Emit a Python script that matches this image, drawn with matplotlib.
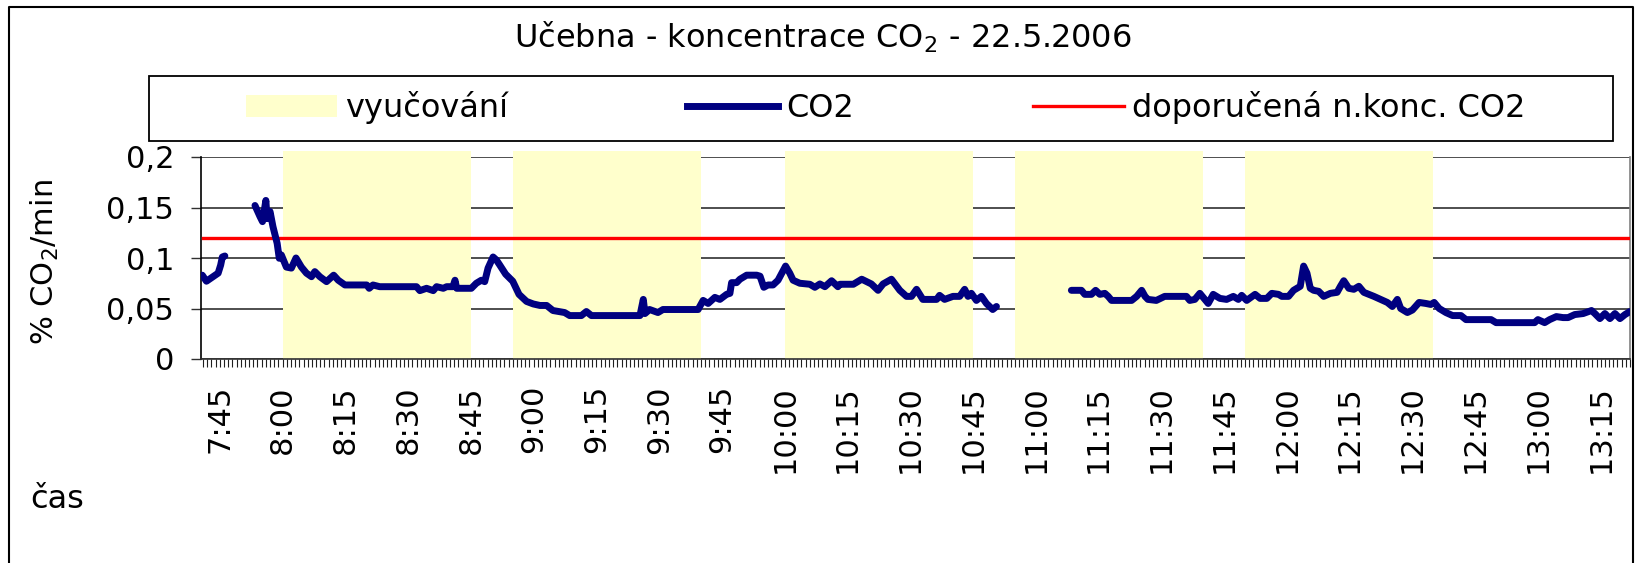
import math
import matplotlib
matplotlib.use("Agg")
import matplotlib.pyplot as plt
from matplotlib.lines import Line2D
from matplotlib.patches import Patch, Rectangle
from matplotlib.ticker import FixedLocator, MultipleLocator, FuncFormatter

# data
# time in minutes since midnight, nan = gap in measurement
co2_time = [460.8, 461.8, 463.4, 464.6, 465.2, 465.6, 466.2, math.nan,
            473.4, 474.6, 475.2, 476.0, 476.3, 477.0, 477.7, 478.7, 479.2, 479.7,
            480.9, 482.1, 483.2, 484.5, 485.7, 486.9, 487.7, 488.9, 490.5, 492.2,
            493.3, 494.9, 500.1, 500.7, 501.6, 503.2, 512.0, 512.8, 514.4, 516.0,
            516.8, 518.4, 519.2, 520.7, 521.2, 521.6, 525.1, 526.3, 527.5, 528.3,
            529.1, 530.3, 531.1, 531.9, 533.3, 535.0, 536.5, 538.3, 539.9, 541.5,
            543.1, 544.6, 547.4, 548.6, 551.4, 552.6, 553.8, 565.4, 566.2, 566.6,
            567.7, 569.7, 570.9, 579.3, 580.5, 581.7, 583.3, 584.5, 586.1, 586.9,
            587.3, 588.5, 589.3, 590.9, 593.3, 594.1, 595.0, 596.0, 597.2, 598.4,
            600.2, 601.2, 602.0, 603.6, 606.0, 607.2, 608.4, 609.6, 611.2, 612.7,
            613.2, 616.4, 618.4, 620.7, 622.3, 623.5, 625.5, 627.5, 629.1, 630.3,
            631.5, 633.0, 636.3, 637.0, 638.2, 640.2, 641.8, 643.0, 643.8, 644.6,
            645.8, 647.0, 648.2, 649.7, 650.6, math.nan,
            668.5, 670.9, 671.7, 673.3, 674.3, 675.3, 676.5, 677.3, 678.1, 682.9,
            684.1, 685.3, 686.1, 686.8, 688.8, 690.8, 696.0, 696.8, 698.0, 699.2,
            700.4, 701.2, 702.4, 704.0, 705.6, 707.2, 708.4, 709.2, 710.4, 712.4,
            713.6, 715.2, 716.4, 718.0, 718.8, 720.4, 721.6, 723.2, 724.0, 724.8,
            725.6, 726.4, 727.6, 728.8, 730.4, 732.0, 732.8, 733.6, 734.8, 736.0,
            737.2, 738.4, 740.8, 742.4, 744.0, 745.2, 746.4, 747.2, 748.8, 750.0,
            751.6, 753.2, 754.4, 755.2, 756.4, 758.0, 759.6, 761.6, 762.8, 766.0,
            768.8, 770.0, 779.2, 780.0, 781.6, 782.8, 784.4, 786.0, 787.2, 788.8,
            790.8, 792.8, 793.6, 794.8, 796.0, 797.2, 798.4, 799.6, 800.8, 802.0]
co2_value = [0.083, 0.077, 0.0815, 0.085, 0.093, 0.101, 0.102, math.nan,
             0.152, 0.141, 0.136, 0.157, 0.139, 0.146, 0.131, 0.1145, 0.0997, 0.103,
             0.091, 0.090, 0.100, 0.091, 0.085, 0.0815, 0.0865, 0.0815, 0.0766, 0.083,
             0.078, 0.0733, 0.0733, 0.070, 0.0733, 0.0716, 0.0716, 0.0677, 0.070, 0.0677,
             0.0716, 0.070, 0.0716, 0.0716, 0.078, 0.070, 0.070, 0.075, 0.078, 0.0766,
             0.090, 0.101, 0.098, 0.093, 0.084, 0.077, 0.064, 0.057, 0.0545, 0.053,
             0.053, 0.048, 0.046, 0.043, 0.043, 0.047, 0.043, 0.043, 0.059, 0.045,
             0.049, 0.046, 0.049, 0.049, 0.058, 0.055, 0.061, 0.059, 0.064, 0.065,
             0.0756, 0.0756, 0.079, 0.083, 0.083, 0.082, 0.071, 0.0733, 0.0733, 0.078,
             0.092, 0.085, 0.078, 0.075, 0.074, 0.071, 0.0743, 0.0716, 0.0775, 0.0716,
             0.074, 0.074, 0.079, 0.0743, 0.068, 0.0743, 0.079, 0.068, 0.062, 0.062,
             0.069, 0.059, 0.059, 0.063, 0.059, 0.062, 0.062, 0.069, 0.062, 0.065,
             0.058, 0.062, 0.055, 0.049, 0.052, math.nan,
             0.068, 0.068, 0.064, 0.064, 0.068, 0.064, 0.065, 0.062, 0.058, 0.058,
             0.062, 0.068, 0.062, 0.059, 0.058, 0.062, 0.062, 0.058, 0.059, 0.065,
             0.059, 0.055, 0.064, 0.060, 0.059, 0.062, 0.059, 0.063, 0.058, 0.064,
             0.060, 0.060, 0.065, 0.064, 0.062, 0.062, 0.068, 0.072, 0.092, 0.085,
             0.070, 0.068, 0.067, 0.062, 0.065, 0.066, 0.072, 0.0775, 0.070, 0.069,
             0.072, 0.066, 0.062, 0.059, 0.056, 0.052, 0.059, 0.050, 0.046, 0.0485,
             0.056, 0.055, 0.054, 0.056, 0.050, 0.046, 0.043, 0.043, 0.039, 0.039,
             0.039, 0.036, 0.036, 0.039, 0.036, 0.039, 0.042, 0.041, 0.041, 0.044,
             0.045, 0.048, 0.045, 0.040, 0.045, 0.040, 0.045, 0.040, 0.044, 0.047]

lesson_start = ["8:00", "8:55", "10:00", "10:55", "11:50"]
lesson_end = ["8:45", "9:40", "10:45", "11:40", "12:35"]
limit_value = 0.12

tick_labels = ["7:45", "8:00", "8:15", "8:30", "8:45", "9:00", "9:15", "9:30",
               "9:45", "10:00", "10:15", "10:30", "10:45", "11:00", "11:15",
               "11:30", "11:45", "12:00", "12:15", "12:30", "12:45", "13:00", "13:15"]
y_ticks = [0, 0.05, 0.1, 0.15, 0.2]


def to_min(s):
    h, m = s.split(":")
    return int(h) * 60 + int(m)


plt.rcParams["font.family"] = ["DejaVu Sans"]
plt.rcParams["mathtext.fontset"] = "dejavusans"
FS = 22      # ticks
FS_BIG = 23  # title, legend

W, H = 1637, 563
fig = plt.figure(figsize=(W / 100, H / 100), dpi=100)


def fx(px):
    return px / W


def fy(py):
    return 1 - py / H


ax = fig.add_axes([fx(201), fy(359), (1630 - 201) / W, (359 - 157) / H])
x0, x1 = 460.5, 802.0
ax.set_xlim(x0, x1)
ax.set_ylim(0, 0.2)

# lessons
starts = [to_min(s) for s in lesson_start]
ends = [to_min(s) for s in lesson_end]
ax.bar(starts, [0.206] * len(starts), width=[e - s for s, e in zip(starts, ends)],
       align="edge", color="#FFFFCC", edgecolor="none", zorder=2, clip_on=False)

# recommended limit
ax.plot([x0 + 0.5, x1 - 0.5], [limit_value, limit_value], color="#FF0000", lw=2.4, zorder=3)

# CO2
ax.plot(co2_time, co2_value, color="#000080", lw=5.0, zorder=4,
        solid_capstyle="round", solid_joinstyle="round")

# axes styling
ax.set_yticks(y_ticks)
ax.yaxis.set_major_formatter(FuncFormatter(lambda v, p: f"{v:g}".replace(".", ",")))
ax.yaxis.grid(True, color="#303030", lw=1.2, zorder=1)
ax.set_axisbelow(True)
ax.tick_params(axis="y", length=7.2, width=1, color="#303030", pad=12, labelsize=FS)

ax.xaxis.set_major_locator(FixedLocator([to_min(t) for t in tick_labels]))
ax.set_xticklabels(tick_labels, rotation=90)
ax.xaxis.set_minor_locator(MultipleLocator(1))
ax.tick_params(axis="x", which="both", length=5.8, width=0.8, color="#202020",
               labelsize=FS)
ax.tick_params(axis="x", which="major", pad=13)

ax.spines["top"].set_visible(False)
ax.spines["left"].set_color("black")
ax.spines["left"].set_linewidth(1.2)
ax.spines["bottom"].set_color("#303030")
ax.spines["bottom"].set_linewidth(1.2)
ax.spines["right"].set_color("#808080")
ax.spines["right"].set_linewidth(1.2)

# texts
fig.text(fx(823), fy(48), "Učebna - koncentrace CO$_2$ - 22.5.2006",
         ha="center", va="baseline", fontsize=FS_BIG)
fig.text(fx(45), fy(262), "% CO$_2$/min", rotation=90, ha="center", va="center",
         fontsize=FS)
fig.text(fx(30), fy(500), "čas", ha="left", va="center", fontsize=FS_BIG)

# legend
fig.patches.append(Rectangle((fx(149), fy(141)), (1613 - 149) / W, (141 - 76) / H,
                             transform=fig.transFigure, fill=False, edgecolor="black",
                             lw=1.3))
handles = [Patch(facecolor="#FFFFCC", edgecolor="none", label="vyučování"),
           Line2D([], [], color="#000080", lw=5.0, label="CO2"),
           Line2D([], [], color="#FF0000", lw=2.4, label="doporučená n.konc. CO2")]
fig.legend(handles=handles, loc="center", bbox_to_anchor=(fx(886), fy(108)),
           ncol=3, frameon=False, fontsize=FS_BIG, handlelength=2.85,
           handletextpad=0.25, columnspacing=5.6)

# outer chart border
fig.add_artist(Line2D([fx(9), fx(9), fx(1633), fx(1633)], [0, fy(7), fy(7), 0],
                      transform=fig.transFigure, color="black", lw=1.5))

fig.savefig("out.png", dpi=100)
